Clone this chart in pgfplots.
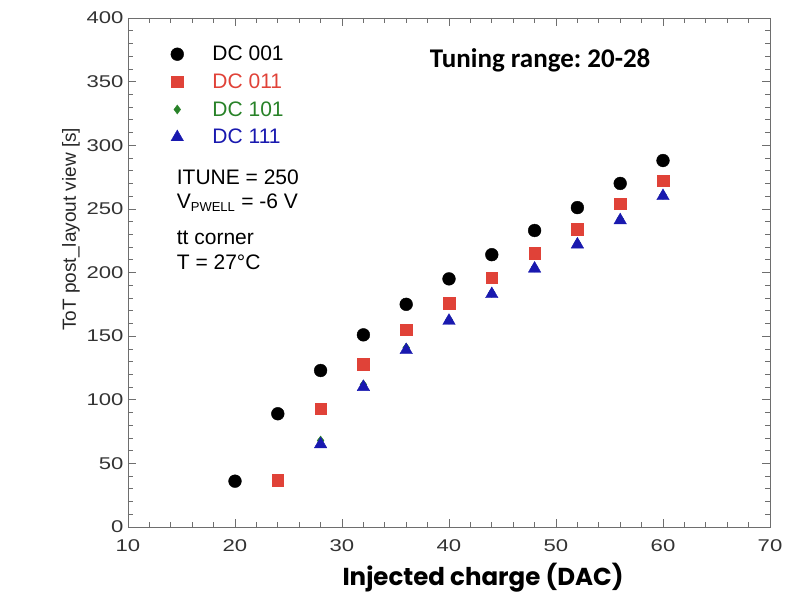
\documentclass[border=0pt]{standalone}
\usepackage{fontspec}
\setmainfont{Liberation Sans}
\newfontfamily\tickfont[FakeStretch=1.3]{Liberation Sans}
\newfontfamily\calibri{Carlito}
\newfontfamily\gothic{Poppins}
\usepackage{pgfplots}
\pgfplotsset{compat=1.18}
\frenchspacing
\definecolor{mred}{RGB}{224,66,56}
\definecolor{mgreen}{RGB}{40,130,40}
\definecolor{mblue}{RGB}{25,25,175}
\definecolor{axgray}{RGB}{110,110,110}
\pgfplotstableread{
x y
20 36
24 89
28 123
32 151
36 175
40 195
44 214
48 233
52 251
56 270
60 288
}\dcA
\pgfplotstableread{
x y
24 37
28 93
32 128
36 155
40 176
44 196
48 215
52 234
56 254
60 272
}\dcB
\pgfplotstableread{
x y
28 68
32 112
36 141
40 163
44 184
48 204
52 223
56 242
60 261
}\dcC
\pgfplotstableread{
x y
28 65
32 110
36 139
40 162
44 183
48 203
52 222
56 241
60 260
}\dcD
\begin{document}
\begin{tikzpicture}
\begin{axis}[
  scale only axis, width=642pt, height=509pt,
  clip=false,
  xmin=10, xmax=70, ymin=0, ymax=400,
  xtick={10,20,...,70}, ytick={0,50,...,400},
  minor x tick num=4, minor y tick num=4,
  tick align=inside, xtick pos=both, ytick pos=both,
  major tick length=8pt, minor tick length=5pt,
  axis line style={axgray, line width=0.8pt},
  tick style={axgray, line width=0.7pt},
  ticklabel style={font=\tickfont\fontsize{17}{20}\selectfont, text=black!80},
  /pgf/number format/assume math mode=true,
  xticklabel shift=9pt,
  yticklabel shift=1pt,
  legend cell align=left,
  legend style={at={(rel axis cs:0.059,0.953)}, anchor=north west, draw=none, fill=none,
    font=\fontsize{21}{25}\selectfont, row sep=7.5pt},
  mymarks/.style={only marks, legend image code/.code={\path[##1] plot coordinates {(8pt,0pt)}; \path (0pt,0pt) (41pt,0pt);}},
]
\addplot[mymarks, mark=*, mark size=6.4pt, color=black] table[x=x,y=y]{\dcA};
\addlegendentry{DC 001}
\addplot[mymarks, mark=square*, mark size=5.8pt, color=mred] table[x=x,y=y]{\dcB};
\addlegendentry{\textcolor{mred}{DC 011}}
\addplot[mymarks, mark=diamond*, mark size=4.5pt, color=mgreen] table[x=x,y=y]{\dcC};
\addlegendentry{\textcolor{mgreen}{DC 101}}
\addplot[mymarks, mark=triangle*, mark size=7.2pt, color=mblue] table[x=x,y=y]{\dcD};
\addlegendentry{\textcolor{mblue}{DC 111}}
\coordinate (ll) at (rel axis cs:0,0);
\coordinate (ur) at (rel axis cs:1,1);
\node[anchor=west, font=\fontsize{21}{25}\selectfont] at (rel axis cs:0.0706,0.688) {ITUNE = 250};
\node[anchor=west, font=\fontsize{21}{25}\selectfont] at (rel axis cs:0.0706,0.637) {V\textsubscript{\fontsize{13}{15}\selectfont PWELL} = -6 V};
\node[anchor=west, font=\fontsize{21}{25}\selectfont] at (rel axis cs:0.0706,0.568) {tt corner};
\node[anchor=west, font=\fontsize{21}{25}\selectfont] at (rel axis cs:0.0706,0.521) {T = 27°C};
\node[font=\calibri\bfseries\fontsize{27}{32}\selectfont] at (rel axis cs:0.642,0.9175) {Tuning range: 20-28};
\node[font=\gothic\bfseries\fontsize{24.5}{29}\selectfont] at ([yshift=-51pt]rel axis cs:0.553,0) {Injected charge (DAC)};
\node[rotate=90, font=\fontsize{19}{23}\selectfont, text=black!85] at ([xshift=-57pt]rel axis cs:0,0.585) {ToT post\_layout view [s]};
\end{axis}
\pgfresetboundingbox
\path ([shift={(-128pt,-70pt)}]ll) rectangle ([shift={(32pt,18pt)}]ur);
\end{tikzpicture}
\end{document}
